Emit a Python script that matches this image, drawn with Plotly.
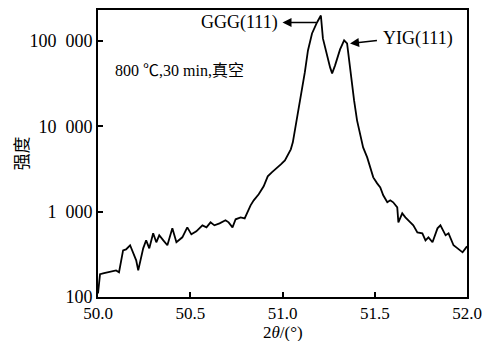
import plotly.graph_objects as go

two_theta = [50.000, 50.011, 50.033, 50.076, 50.098, 50.114, 50.136, 50.152, 50.174, 50.207,
             50.218, 50.245, 50.261, 50.278, 50.299, 50.316, 50.332, 50.354, 50.376, 50.403,
             50.425, 50.457, 50.484, 50.506, 50.533, 50.566, 50.588, 50.610, 50.631, 50.659,
             50.691, 50.708, 50.729, 50.746, 50.773, 50.795, 50.811, 50.827, 50.844, 50.871,
             50.898, 50.920, 50.942, 50.969, 50.991, 51.013, 51.029, 51.045, 51.056, 51.067,
             51.083, 51.100, 51.121, 51.138, 51.160, 51.187, 51.208, 51.219, 51.241, 51.258,
             51.269, 51.285, 51.312, 51.334, 51.350, 51.366, 51.388, 51.404, 51.421, 51.437,
             51.459, 51.475, 51.492, 51.513, 51.530, 51.546, 51.568, 51.584, 51.600, 51.622,
             51.628, 51.649, 51.666, 51.693, 51.709, 51.731, 51.758, 51.775, 51.791, 51.813,
             51.840, 51.856, 51.884, 51.900, 51.927, 51.949, 51.976, 51.992, 52.000]
intensity = [110, 185, 190, 200, 205, 195, 352, 362, 404, 269,
             205, 372, 462, 372, 558, 438, 529, 462, 404, 638,
             438, 501, 656, 543, 589, 692, 656, 750, 692, 731,
             793, 750, 656, 815, 859, 836, 1009, 1188, 1359, 1600,
             1983, 2596, 2893, 3223, 3591, 4000, 4707, 5383, 6501, 8993,
             13464, 21880, 42950, 77800, 123000, 165500, 200000, 107600, 68000, 49200,
             41900, 52000, 80000, 101900, 94000, 47900, 20200, 11780, 8280, 5670,
             4330, 3310, 2527, 2150, 1930, 1557, 1289, 1359, 1289, 1125,
             750, 957, 859, 750, 692, 573, 558, 462, 501, 438,
             638, 692, 529, 558, 404, 372, 334, 372, 393]

x_ticks = [50.0, 50.5, 51.0, 51.5, 52.0]
x_ticktext = ["50.0", "50.5", "51.0", "51.5", "52.0"]
y_ticks = [100, 1000, 10000, 100000]
y_ticktext = ["100", "1\u2002000", "10\u2002000", "100\u2002000"]

serif = "Liberation Serif, Times New Roman, Noto Sans CJK SC, serif"

fig = go.Figure()
fig.add_trace(go.Scatter(x=two_theta, y=intensity, mode="lines",
                         line=dict(color="black", width=1.8), showlegend=False))

fig.update_layout(
    width=483, height=341,
    margin=dict(l=98, r=16, t=10, b=44),
    plot_bgcolor="white", paper_bgcolor="white",
    font=dict(family=serif, size=18, color="black"),
)
fig.update_xaxes(range=[50, 52], tickvals=x_ticks, ticktext=x_ticktext,
                 tickfont=dict(size=17),
                 showline=True, linecolor="black", linewidth=2, mirror=True,
                 ticks="inside", ticklen=5, tickwidth=1.5, tickcolor="black",
                 showgrid=False, zeroline=False, automargin=False)
fig.update_yaxes(type="log", range=[2, 5.365], tickvals=y_ticks, ticktext=y_ticktext,
                 showline=True, linecolor="black", linewidth=2, mirror=True,
                 ticks="inside", ticklen=5, tickwidth=1.5, tickcolor="black",
                 showgrid=False, zeroline=False, automargin=False)

# axis titles
fig.add_annotation(x=0.5, y=0.0, xref="paper", yref="paper", yshift=-35,
                   text="2<i>θ</i>/(°)", showarrow=False, yanchor="middle",
                   font=dict(size=17))
fig.add_annotation(x=-0.209, y=0.5, xref="paper", yref="paper", text="强度",
                   showarrow=False, textangle=-90, xanchor="center", yanchor="middle",
                   font=dict(family="Noto Sans CJK SC", size=17, color="black"))

# arrows
fig.add_annotation(x=51.0, y=5.219, ax=51.19, ay=5.219, axref="x", ayref="y",
                   xref="x", yref="y", text="", showarrow=True, arrowhead=2,
                   arrowsize=1.2, arrowwidth=1.5, arrowcolor="black", standoff=0)
fig.add_annotation(x=51.366, y=4.973, ax=51.52, ay=5.01, axref="x", ayref="y",
                   xref="x", yref="y", text="", showarrow=True, arrowhead=2,
                   arrowsize=1.2, arrowwidth=1.5, arrowcolor="black", standoff=0)
fig.add_annotation(x=50.985, y=5.219, xref="x", yref="y", text="GGG(111)",
                   showarrow=False, xanchor="right", yanchor="middle",
                   font=dict(size=18))
fig.add_annotation(x=51.535, y=5.03, xref="x", yref="y", text="YIG(111)",
                   showarrow=False, xanchor="left", yanchor="middle",
                   font=dict(size=18))
fig.add_annotation(x=50.08, y=4.657, xref="x", yref="y", text="800 ℃,30 min,真空",
                   showarrow=False, xanchor="left", yanchor="middle",
                   font=dict(size=16))

fig.write_html("out.html", config={"displayModeBar": False},
               post_script="document.body.style.margin='0';")
